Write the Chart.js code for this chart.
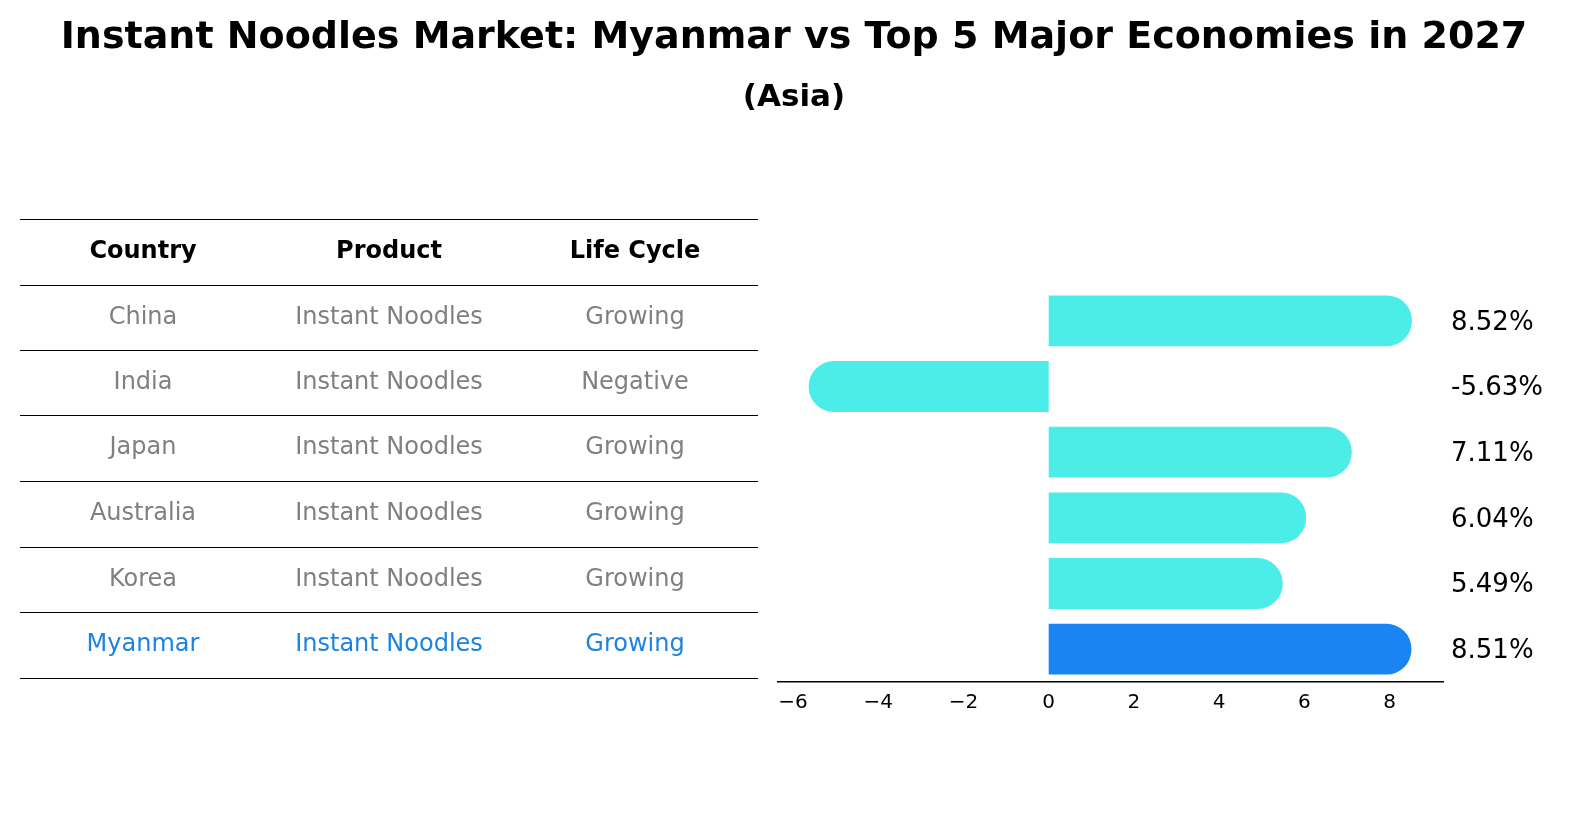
<!DOCTYPE html>
<html>
<head>
<meta charset="utf-8">
<script src="https://cdn.jsdelivr.net/npm/chart.js@4/dist/chart.umd.min.js"></script>
<style>
  html, body { margin: 0; padding: 0; background: #fff; }
  #wrap { width: 1596px; height: 823px; }
</style>
</head>
<body>
<div id="wrap"><canvas id="c" width="1596" height="823"></canvas></div>
<script>
// data
const countries = ['China', 'India', 'Japan', 'Australia', 'Korea', 'Myanmar'];
const products = ['Instant Noodles', 'Instant Noodles', 'Instant Noodles', 'Instant Noodles', 'Instant Noodles', 'Instant Noodles'];
const lifeCycles = ['Growing', 'Negative', 'Growing', 'Growing', 'Growing', 'Growing'];
const growth = [8.52, -5.63, 7.11, 6.04, 5.49, 8.51];
const tableHeaders = ['Country', 'Product', 'Life Cycle'];

const FONT = "'DejaVu Sans', sans-serif";
const CYAN = '#4cede8';
const BLUE = '#1a84f2';
const barColors = countries.map(c => c === 'Myanmar' ? BLUE : CYAN);

// titles, table and value labels drawn on the canvas
const decorPlugin = {
    id: 'decor',
    afterDraw(chart) {
        const ctx = chart.ctx;
        ctx.save();
        ctx.fillStyle = '#000';
        ctx.textAlign = 'center';
        ctx.textBaseline = 'middle';
        ctx.font = 'bold 38px ' + FONT;
        ctx.fillText('Instant Noodles Market: Myanmar vs Top 5 Major Economies in 2027', 794, 38);
        ctx.font = 'bold 31px ' + FONT;
        ctx.fillText('(Asia)', 794, 98);

        // table
        const colX = [143, 389, 635];
        const lineY = [219, 285, 350, 415, 481, 547, 612, 678];
        ctx.strokeStyle = '#000';
        ctx.lineWidth = 1;
        lineY.forEach(y => {
            ctx.beginPath();
            ctx.moveTo(20, y + 0.5);
            ctx.lineTo(758, y + 0.5);
            ctx.stroke();
        });
        ctx.font = 'bold 24px ' + FONT;
        tableHeaders.forEach((h, i) => ctx.fillText(h, colX[i], 252));
        ctx.font = '24px ' + FONT;
        countries.forEach((c, r) => {
            const y = (lineY[r + 1] + lineY[r + 2]) / 2;
            ctx.fillStyle = c === 'Myanmar' ? '#1a84e0' : '#808080';
            [c, products[r], lifeCycles[r]].forEach((t, i) => ctx.fillText(t, colX[i], y));
        });

        // value labels
        const meta = chart.getDatasetMeta(0);
        ctx.fillStyle = '#000';
        ctx.textAlign = 'left';
        ctx.font = '26px ' + FONT;
        meta.data.forEach((bar, i) => {
            ctx.fillText(growth[i].toFixed(2) + '%', chart.chartArea.right + 8, bar.y + 2);
        });
        ctx.restore();
    }
};

new Chart(document.getElementById('c').getContext('2d'), {
    type: 'bar',
    data: {
        labels: countries,
        datasets: [{
            data: growth,
            backgroundColor: barColors,
            borderWidth: 0,
            borderSkipped: 'start',
            borderRadius: 25,
            barPercentage: 0.86,
            categoryPercentage: 0.9
        }]
    },
    options: {
        indexAxis: 'y',
        responsive: false,
        animation: false,
        layout: { padding: { left: 778, right: 153, top: 288, bottom: 106 } },
        plugins: { legend: { display: false }, tooltip: { enabled: false }, title: { display: false } },
        scales: {
            y: { display: false, offset: true },
            x: {
                min: -6.35,
                max: 9.25,
                grid: { display: false, drawTicks: true, tickLength: 7, tickColor: '#000' },
                border: { display: true, color: '#000', width: 1.5 },
                afterBuildTicks: axis => {
                    axis.ticks = [-6, -4, -2, 0, 2, 4, 6, 8].map(v => ({ value: v }));
                },
                ticks: {
                    color: '#000',
                    font: { family: FONT, size: 20 },
                    padding: 2,
                    callback: v => String(v).replace('-', '\u2212')
                }
            }
        }
    },
    plugins: [decorPlugin]
});
</script>
</body>
</html>
